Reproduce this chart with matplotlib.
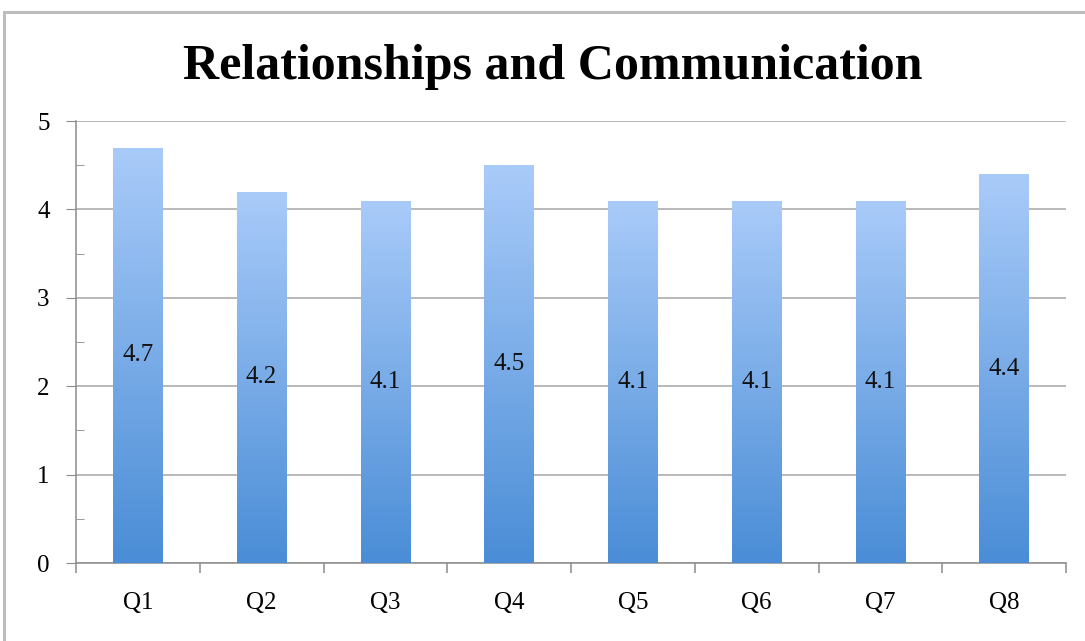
import numpy as np
import matplotlib
matplotlib.use("Agg")
import matplotlib.pyplot as plt
from matplotlib.colors import LinearSegmentedColormap
from matplotlib.patches import Rectangle

questions = ["Q1", "Q2", "Q3", "Q4", "Q5", "Q6", "Q7", "Q8"]
scores = [4.7, 4.2, 4.1, 4.5, 4.1, 4.1, 4.1, 4.4]

plt.rcParams["font.family"] = ["Liberation Serif", "DejaVu Serif"]

W, H = 1085, 641
fig = plt.figure(figsize=(W / 100, H / 100), dpi=100)
ax = fig.add_axes([76 / W, 1 - 563 / H, 990 / W, 442 / H])

# outer chart frame
fig.patches.append(Rectangle((4 / W, -0.05), 1.1, 1.05 - 12 / H,
                             transform=fig.transFigure, fill=False,
                             edgecolor="#bdbdbd", lw=2.2, zorder=0))

grad = LinearSegmentedColormap.from_list("bar", ["#4a8dd6", "#a9cbf9"])
gradient = np.linspace(0, 1, 256).reshape(-1, 1)

x = np.arange(len(questions))
bars = ax.bar(x, scores, 0.4, color="none", edgecolor="none", zorder=3)
for b, v in zip(bars, scores):
    x0 = b.get_x()
    im = ax.imshow(gradient, cmap=grad, origin="lower", aspect="auto",
                   extent=[x0, x0 + b.get_width(), 0, v], zorder=3)
    im.set_clip_path(b)
    ax.text(b.get_x() + b.get_width() / 2, v / 2, f"{v:.1f}",
            ha="center", va="center", fontsize=18, color="#111111", zorder=4)

ax.set_xlim(-0.5, len(questions) - 0.5)
ax.set_ylim(0, 5)
ax.set_yticks(range(6))
ax.set_yticks(np.arange(0.5, 5, 1), minor=True)
ax.set_xticks(x)
ax.set_xticklabels(questions)
ax.set_xticks(np.arange(-0.5, len(questions)), minor=True)

ax.grid(axis="y", color="#a6a6a6", lw=1.1, zorder=1)
for s in ["top", "right"]:
    ax.spines[s].set_visible(False)
for s in ["left", "bottom"]:
    ax.spines[s].set_color("#8c8c8c")
    ax.spines[s].set_linewidth(1.1)

ax.tick_params(axis="y", which="major", length=7, color="#8c8c8c",
               labelsize=18, pad=12)
ax.tick_params(axis="y", which="minor", direction="in", length=6,
               color="#8c8c8c")
ax.tick_params(axis="x", which="major", length=0, labelsize=18, pad=21)
ax.tick_params(axis="x", which="minor", length=7, color="#8c8c8c", width=1.1)

fig.text(553 / W, 1 - 67 / H, "Relationships and Communication",
         ha="center", va="center", fontsize=36, fontweight="bold")

fig.savefig("out.png", dpi=100)
